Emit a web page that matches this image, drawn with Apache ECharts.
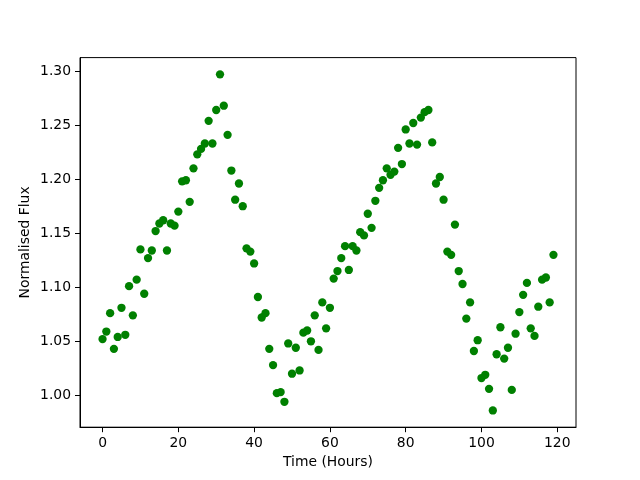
<!DOCTYPE html>
<html>
<head>
<meta charset="utf-8">
<script src="https://cdn.jsdelivr.net/npm/echarts@6/dist/echarts.min.js"></script>
<style>
  html, body { margin: 0; padding: 0; background: #fff; }
  #chart { width: 640px; height: 480px; }
</style>
</head>
<body>
<div id="chart"></div>
<script>
// hours since start, one sample per hour
const hours = [];
for (let i = 0; i < 120; i++) hours.push(i);

// normalised flux
const flux = [
  1.052, 1.059, 1.076, 1.043, 1.054, 1.081, 1.056, 1.101, 1.074, 1.107,
  1.135, 1.094, 1.127, 1.134, 1.152, 1.159, 1.162, 1.134, 1.159, 1.157,
  1.170, 1.198, 1.199, 1.179, 1.210, 1.223, 1.228, 1.233, 1.254, 1.233,
  1.264, 1.297, 1.268, 1.241, 1.208, 1.181, 1.196, 1.175, 1.136, 1.133,
  1.122, 1.091, 1.072, 1.076, 1.043, 1.028, 1.002, 1.003, 0.994, 1.048,
  1.020, 1.044, 1.023, 1.058, 1.060, 1.050, 1.074, 1.042, 1.086, 1.062,
  1.081, 1.108, 1.115, 1.127, 1.138, 1.116, 1.138, 1.134, 1.151, 1.148,
  1.168, 1.155, 1.180, 1.192, 1.199, 1.210, 1.204, 1.207, 1.229, 1.214,
  1.246, 1.233, 1.252, 1.232, 1.257, 1.262, 1.264, 1.234, 1.196, 1.202,
  1.181, 1.133, 1.130, 1.158, 1.115, 1.103, 1.071, 1.086, 1.041, 1.051,
  1.016, 1.019, 1.006, 0.986, 1.038, 1.063, 1.034, 1.044, 1.005, 1.057,
  1.077, 1.093, 1.104, 1.062, 1.055, 1.082, 1.107, 1.109, 1.086, 1.130
];

const xTicks = [0, 20, 40, 60, 80, 100, 120];
const yTicks = [1.00, 1.05, 1.10, 1.15, 1.20, 1.25, 1.30];

const points = hours.map((h, i) => [h, flux[i]]);

const font = 'DejaVu Sans';
const chart = echarts.init(document.getElementById('chart'));
chart.setOption({
  animation: false,
  backgroundColor: '#fff',
  grid: {
    left: 80, right: 64, top: 57.6, bottom: 52.8,
    show: true, borderColor: '#000', borderWidth: 1, backgroundColor: 'transparent'
  },
  xAxis: {
    type: 'value',
    min: -5.95,
    max: 124.95,
    name: 'Time (Hours)',
    nameLocation: 'middle',
    nameGap: 28,
    nameMoveOverlap: false,
    nameTextStyle: { color: '#000', fontFamily: font, fontSize: 13.9 },
    axisLine: { show: true, onZero: false, lineStyle: { color: '#000', width: 1 } },
    axisTick: { show: true, length: 5, customValues: xTicks, lineStyle: { color: '#000' } },
    axisLabel: {
      customValues: xTicks, margin: 9,
      color: '#000', fontFamily: font, fontSize: 13.9
    },
    splitLine: { show: false }
  },
  yAxis: {
    type: 'value',
    min: 0.9705,
    max: 1.3125,
    name: 'Normalised Flux',
    nameLocation: 'middle',
    nameGap: 48,
    nameMoveOverlap: false,
    nameTextStyle: { color: '#000', fontFamily: font, fontSize: 13.9 },
    axisLine: { show: true, onZero: false, lineStyle: { color: '#000', width: 1 } },
    axisTick: { show: true, length: 5, customValues: yTicks, lineStyle: { color: '#000' } },
    axisLabel: {
      customValues: yTicks, margin: 9,
      color: '#000', fontFamily: font, fontSize: 13.9,
      formatter: v => v.toFixed(2)
    },
    splitLine: { show: false }
  },
  series: [{
    type: 'scatter',
    data: points,
    symbol: 'circle',
    symbolSize: 8.3,
    itemStyle: { color: '#008000', opacity: 1 }
  }]
});
</script>
</body>
</html>
